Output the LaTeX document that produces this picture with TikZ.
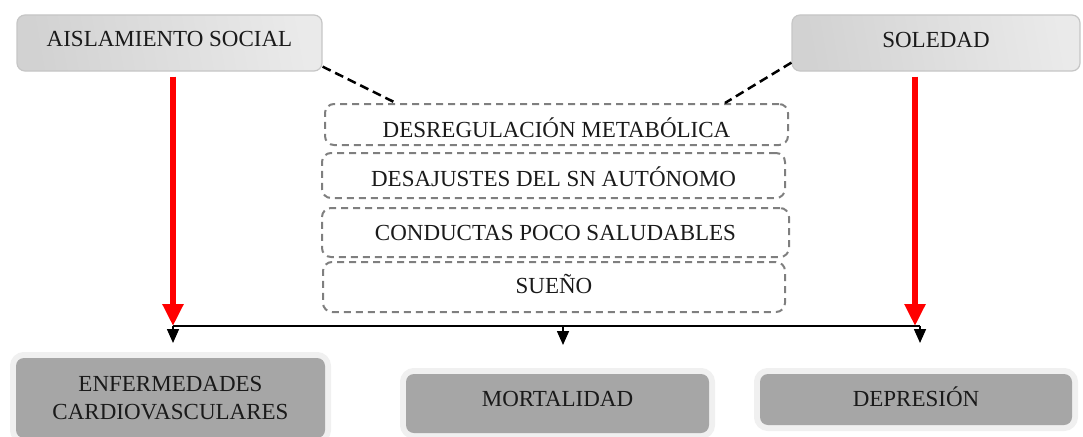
\documentclass[tikz,border=0pt]{standalone}
\usepackage{fontspec}
\setmainfont{Liberation Serif}
\usetikzlibrary{arrows.meta,calc}
\definecolor{txt}{HTML}{1A1A1A}
\definecolor{topL}{HTML}{D2D2D2}
\definecolor{topR}{HTML}{EAEAEA}
\definecolor{topB}{HTML}{C6C6C6}
\definecolor{dashg}{HTML}{7F7F7F}
\definecolor{botF}{HTML}{A6A6A6}
\definecolor{halo}{HTML}{F0F0F0}
\definecolor{arrred}{HTML}{FF0000}
\tikzset{
  x=1pt, y=-1pt,
  lbl/.style={font=\fontsize{23}{28}\selectfont, text=txt, align=center, inner sep=0pt},
  topbox/.style={lbl, rounded corners=8pt, draw=topB, line width=1.2pt, left color=topL, right color=topR, shading angle=100},
  midbox/.style={lbl, rounded corners=9pt, draw=dashg, line width=2pt, dash pattern=on 7pt off 5pt},
  botbox/.style={lbl, rounded corners=8pt, fill=botF, preaction={draw=halo, line width=12pt, rounded corners=8pt}},
  redarr/.style={draw=arrred, line width=6pt, -{Triangle[width=20pt,length=22pt]}},
  blkarr/.style={draw=black, line width=1.6pt, -{Triangle[width=12pt,length=14pt]}},
  dlink/.style={draw=black, line width=2.5pt, dash pattern=on 9pt off 5pt}
}
\begin{document}
\begin{tikzpicture}
\useasboundingbox (0,0) rectangle (1083,436);
% top boxes
\node[topbox, minimum width=305pt, minimum height=56pt, text height=16pt, text depth=9.8pt] (aisl) at (169.5,43) {AISLAMIENTO SOCIAL};
\node[topbox, minimum width=288pt, minimum height=56pt, text height=16pt, text depth=7.8pt] (sol) at (936,43) {SOLEDAD};
% dashed mechanism boxes
\node[midbox, minimum width=463pt, minimum height=41pt, text height=26.2pt, text depth=0pt] (d1) at (556.5,124.5) {DESREGULACIÓN METABÓLICA};
\node[midbox, minimum width=463pt, minimum height=45pt, text height=22.6pt, text depth=0pt] (d2) at (553.5,175.5) {DESAJUSTES DEL SN AUTÓNOMO};
\node[midbox, minimum width=467pt, minimum height=49pt, text height=15.2pt, text depth=0pt] (d3) at (555.5,232.5) {CONDUCTAS POCO SALUDABLES};
\node[midbox, minimum width=462pt, minimum height=50pt, text height=16pt, text depth=3.2pt] (d4) at (554,287) {SUEÑO};
% bottom boxes
\node[botbox, minimum width=309pt, minimum height=80pt] (enf) at (170.5,398) {ENFERMEDADES\\CARDIOVASCULARES};
\node[botbox, minimum width=303pt, minimum height=59pt, text height=16pt, text depth=10.4pt] (mor) at (557.5,403.5) {MORTALIDAD};
\node[botbox, minimum width=312pt, minimum height=51pt, text height=16pt, text depth=2.4pt] (dep) at (916,399.5) {DEPRESIÓN};
% dashed links
\draw[dlink] ($(aisl.south east)+(0,-5)$) -- ($(d1.north west)+(72,0)$);
\draw[dlink] ($(sol.south west)+(0,-9)$) -- ($(d1.north east)+(-64,0)$);
% bus
\coordinate (bl) at (173,326);
\coordinate (bm) at (563,326);
\coordinate (br) at (920,326);
\coordinate (ebl) at (173,343);
\coordinate (ebm) at (563,345);
\coordinate (ebr) at (920,343);
\draw[black, line width=2pt] (bl) -- (br);
\draw[blkarr] (bl) -- (ebl);
\draw[blkarr] (bm) -- (ebm);
\draw[blkarr] (br) -- (ebr);
% red arrows
\coordinate (rl) at (173,326);
\coordinate (rr) at (915,326);
\draw[redarr] (aisl.south -| rl) ++(0,5) -- (rl);
\draw[redarr] (sol.south -| rr) ++(0,5) -- (rr);
\end{tikzpicture}
\end{document}
